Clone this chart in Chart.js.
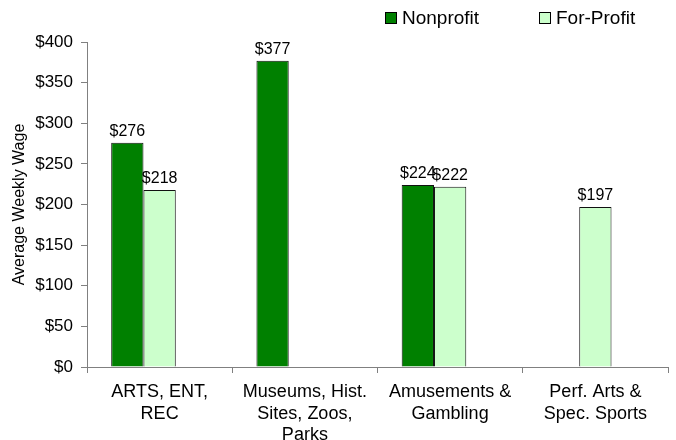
<!DOCTYPE html>
<html>
<head>
<meta charset="utf-8">
<script src="https://cdn.jsdelivr.net/npm/chart.js@4/dist/chart.umd.min.js"></script>
<style>
html,body{margin:0;padding:0;background:#fff;}
#wrap{width:676px;height:440px;position:relative;}
</style>
</head>
<body>
<div id="wrap"><canvas id="c" width="676" height="440"></canvas></div>
<script>
const categories = [["ARTS, ENT,", "REC"], ["Museums, Hist.", "Sites, Zoos,", "Parks"], ["Amusements &", "Gambling"], ["Perf. Arts &", "Spec. Sports"]];
const nonprofit = [276, 377, 224, null];
const forProfit = [218, null, 222, 197];
const spacer = [null, null, null, null];
const seriesNames = ["Nonprofit", "For-Profit"];
const yTicks = [0, 50, 100, 150, 200, 250, 300, 350, 400];

const FONT = "'Liberation Sans', Arial, sans-serif";

const valueLabels = {
  id: 'valueLabels',
  afterDatasetsDraw(chart) {
    const ctx = chart.ctx;
    ctx.save();
    ctx.font = "16px " + FONT;
    ctx.fillStyle = "#000";
    ctx.textAlign = "center";
    ctx.textBaseline = "alphabetic";
    [0, 1].forEach(di => {
      const meta = chart.getDatasetMeta(di);
      meta.data.forEach((bar, i) => {
        const v = chart.data.datasets[di].data[i];
        if (v == null) return;
        ctx.fillText("$" + v, bar.x, bar.y - 7);
      });
    });
    ctx.restore();
  }
};

const customLegend = {
  id: 'customLegend',
  afterDraw(chart) {
    const ctx = chart.ctx;
    ctx.save();
    ctx.font = "19px " + FONT;
    ctx.textBaseline = "middle";
    ctx.textAlign = "left";
    const xs = [385, 539];
    [0, 1].forEach(di => {
      const ds = chart.data.datasets[di];
      const x = xs[di], y = 12;
      ctx.fillStyle = ds.backgroundColor;
      ctx.fillRect(x, y, 12, 12);
      ctx.strokeStyle = "#000";
      ctx.lineWidth = 1;
      ctx.strokeRect(x + 0.5, y + 0.5, 11, 11);
      ctx.fillStyle = "#000";
      ctx.fillText(ds.label, x + 17, y + 7);
    });
    ctx.restore();
  }
};

new Chart(document.getElementById('c'), {
  type: 'bar',
  data: {
    labels: categories,
    datasets: [
      { label: seriesNames[0], data: nonprofit, backgroundColor: '#008000', borderColor: '#111', borderWidth: 1 },
      { label: seriesNames[1], data: forProfit, backgroundColor: '#CCFFCC', borderColor: '#111', borderWidth: 1 },
      { label: '', data: spacer, backgroundColor: 'rgba(0,0,0,0)', borderWidth: 0 }
    ]
  },
  options: {
    responsive: false,
    animation: false,
    devicePixelRatio: 1,
    layout: { padding: { left: 0, right: 8, top: 42, bottom: 0 } },
    datasets: { bar: { categoryPercentage: 0.667, barPercentage: 1.0 } },
    plugins: { legend: { display: false }, tooltip: { enabled: false } },
    scales: {
      x: {
        offset: true,
        grid: { display: true, drawOnChartArea: false, offset: true, tickLength: 6, color: '#808080', tickColor: '#808080' },
        border: { display: true, color: '#808080', width: 1 },
        ticks: { color: '#000', font: { family: FONT, size: 18, lineHeight: 1.17 }, padding: 9, maxRotation: 0, autoSkip: false },
        afterFit(s) { s.height = 73; }
      },
      y: {
        min: 0, max: 400,
        afterBuildTicks(s) { s.ticks = yTicks.map(v => ({ value: v })); },
        grid: { display: true, drawOnChartArea: false, tickLength: 6, color: '#808080', tickColor: '#808080' },
        border: { display: true, color: '#808080', width: 1 },
        ticks: { color: '#000', font: { family: FONT, size: 17 }, padding: 8, callback: v => "$" + v },
        title: { display: true, text: 'Average Weekly Wage', color: '#000', font: { family: FONT, size: 16 }, padding: { top: 10, bottom: 0 } },
        afterFit(s) { s.width = 87; }
      }
    }
  },
  plugins: [valueLabels, customLegend]
});
</script>
</body>
</html>
